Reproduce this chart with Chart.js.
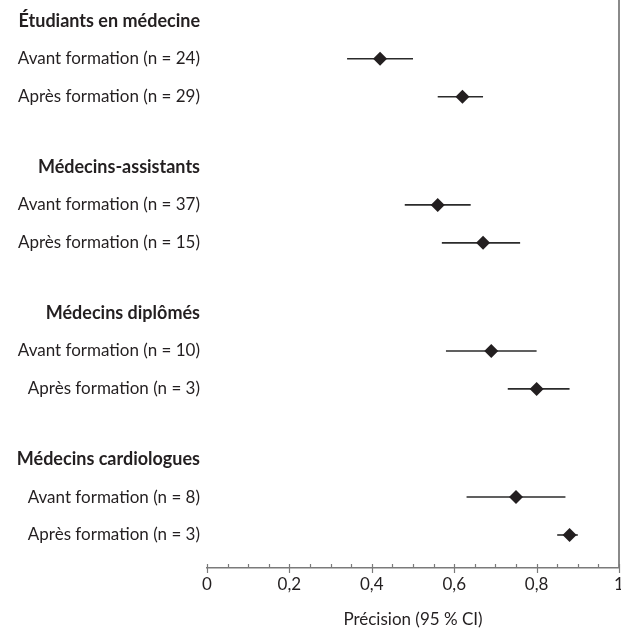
<!DOCTYPE html>
<html>
<head>
<meta charset="utf-8">
<script src="https://cdn.jsdelivr.net/npm/chart.js@4"></script>
<style>
  html, body { margin: 0; padding: 0; background: #fff; }
  #wrap { width: 621px; height: 632px; }
</style>
</head>
<body>
<div id="wrap"><canvas id="forest"></canvas></div>
<script>
const groups = ['Étudiants en médecine', 'Médecins-assistants', 'Médecins diplômés', 'Médecins cardiologues']
const rowLabels = [
  'Avant formation (n = 24)', 'Après formation (n = 29)',
  'Avant formation (n = 37)', 'Après formation (n = 15)',
  'Avant formation (n = 10)', 'Après formation (n = 3)',
  'Avant formation (n = 8)', 'Après formation (n = 3)',
]
const precision = [0.42, 0.62, 0.56, 0.67, 0.69, 0.80, 0.75, 0.88]
const ciLow = [0.34, 0.56, 0.48, 0.57, 0.58, 0.73, 0.63, 0.85]
const ciHigh = [0.50, 0.67, 0.64, 0.76, 0.80, 0.88, 0.87, 0.90]
const xTickLabels = ['0', '0,2', '0,4', '0,6', '0,8', '1']
const axisTitle = 'Précision (95 % CI)'

const FONT = 'Lato'
const INK = '#231f20'
const GROUP_STEP = 3.85 // rows per group incl. gap

// y positions: header then two rows per group
const yLabels = []
const yPos = []
const yBold = []
const rowPos = []
groups.forEach((g, gi) => {
  yLabels.push(g); yPos.push(gi * GROUP_STEP); yBold.push(true)
  for (let r = 0; r < 2; r++) {
    const p = gi * GROUP_STEP + r + 1
    yLabels.push(rowLabels[gi * 2 + r]); yPos.push(p); yBold.push(false)
    rowPos.push(p)
  }
})

const ciSets = rowPos.map((p, i) => ({
  type: 'scatter',
  data: [{ x: ciLow[i], y: p }, { x: ciHigh[i], y: p }],
  showLine: true,
  borderColor: '#2b2b2b',
  borderWidth: 1.6,
  pointRadius: 0,
  order: 2,
}))

const minorTicks = {
  id: 'minorTicks',
  afterDraw(chart) {
    const x = chart.scales.x
    const ctx = chart.ctx
    const y0 = chart.chartArea.bottom
    ctx.save()
    ctx.strokeStyle = '#7a7a7a'
    ctx.lineWidth = 1.2
    for (let i = 0; i <= 20; i++) {
      const px = Math.round(x.getPixelForValue(i * 0.05)) + 0.5
      const major = i % 4 === 0
      ctx.beginPath()
      ctx.moveTo(px, y0 - 4)
      ctx.lineTo(px, major ? y0 + 5 : y0)
      ctx.stroke()
    }
    ctx.restore()
  },
}

new Chart(document.getElementById('forest'), {
  type: 'scatter',
  data: {
    datasets: [
      {
        data: rowPos.map((p, i) => ({ x: precision[i], y: p })),
        pointStyle: 'rectRot',
        pointRadius: 7,
        backgroundColor: INK,
        borderColor: INK,
        borderWidth: 0,
        order: 1,
      },
      ...ciSets,
    ],
  },
  options: {
    responsive: true,
    maintainAspectRatio: false,
    animation: false,
    layout: { padding: { top: 0, left: 0, bottom: 0, right: 2 }, autoPadding: false },
    plugins: {
      legend: { display: false },
      tooltip: { enabled: false },
    },
    scales: {
      x: {
        type: 'linear',
        min: 0,
        max: 1,
        ticks: {
          stepSize: 0.2,
          padding: 6,
          color: INK,
          font: { family: FONT, size: 17 },
          callback: (v, i) => xTickLabels[i],
        },
        grid: {
          drawTicks: false,
          color: (c) => (c.tick && c.tick.value === 1 ? '#8a8a8a' : 'rgba(0,0,0,0)'),
          lineWidth: 2,
        },
        border: { display: true, color: '#7a7a7a', width: 1.5 },
        title: {
          display: true,
          text: axisTitle,
          color: INK,
          font: { family: FONT, size: 17 },
          padding: { top: 4, bottom: 2 },
        },
        afterFit: (s) => {
          s.height = 64
          s.paddingLeft = 0
          s.paddingRight = 0
        },
      },
      y: {
        type: 'linear',
        reverse: true,
        min: -0.55,
        max: 14.42,
        afterBuildTicks: (s) => { s.ticks = yPos.map((v) => ({ value: v })) },
        ticks: {
          padding: 7,
          color: INK,
          font: (c) => ({ family: FONT, size: yBold[c.index] ? 18 : 17, weight: yBold[c.index] ? 'bold' : 'normal' }),
          callback: (v, i) => yLabels[i],
        },
        grid: { display: false, drawTicks: false },
        border: { display: false },
        afterFit: (s) => {
          s.width = 207
          s.paddingTop = 0
          s.paddingBottom = 0
        },
      },
    },
  },
  plugins: [minorTicks],
})
</script>
</body>
</html>
